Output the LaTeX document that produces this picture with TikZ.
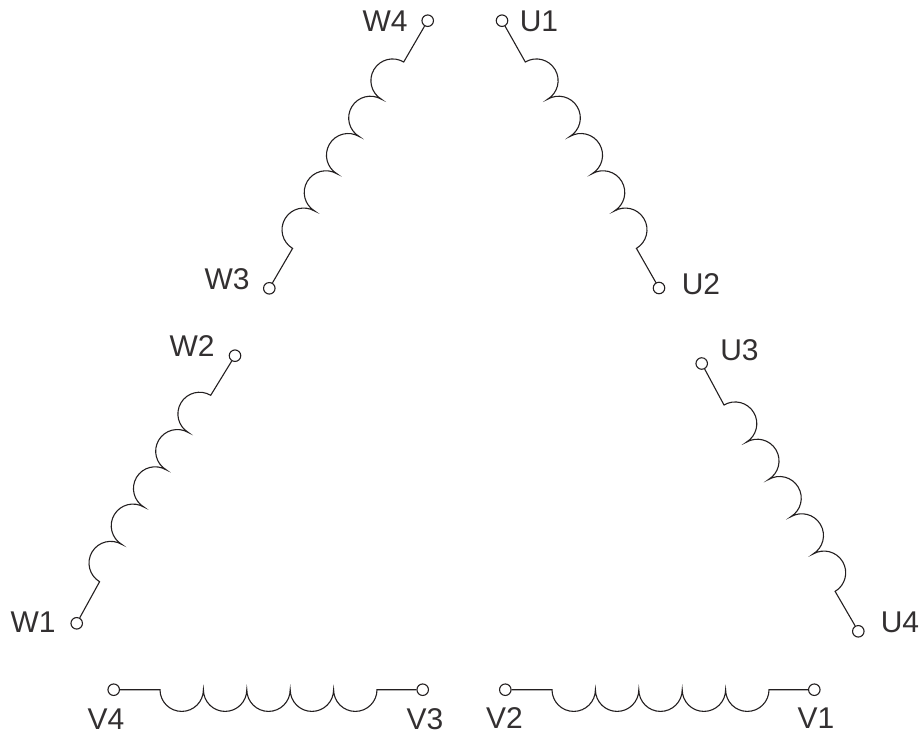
\documentclass[tikz,border=0pt]{standalone}
\usepackage{fontspec}
\setmainfont{Liberation Sans}
\definecolor{ink}{HTML}{231F20}
\definecolor{lblink}{HTML}{333031}
\tikzset{
  wire/.style={draw=ink,line width=1.1pt,line join=miter},
  term/.style={circle,draw=ink,line width=1.1pt,minimum size=11.5pt,inner sep=0pt},
  lbl/.style={text=lblink,inner sep=0pt,font=\fontsize{30}{33}\selectfont},
  turn/.style={radius=21.7pt}
}
\newcommand{\coilpath}[4]{% from terminal, first cusp, to terminal, start angle
  \draw[wire] (#1) -- (#2)
    arc[start angle=#4,delta angle=\coildelta,turn]
    arc[start angle=#4,delta angle=\coildelta,turn]
    arc[start angle=#4,delta angle=\coildelta,turn]
    arc[start angle=#4,delta angle=\coildelta,turn]
    arc[start angle=#4,delta angle=\coildelta,turn] -- (#3);
}
\begin{document}
\begin{tikzpicture}[x=1pt,y=-1pt]
\useasboundingbox (0,0) rectangle (920,736);
% terminals
\node[term] (tW4) at (427.7,20.7) {};
\node[term] (tW3) at (269.3,288.3) {};
\node[term] (tW2) at (235,355.7) {};
\node[term] (tW1) at (76.7,623.3) {};
\node[term] (tU1) at (502,20.7) {};
\node[term] (tU2) at (659,288) {};
\node[term] (tU3) at (701.7,363.5) {};
\node[term] (tU4) at (858.3,631.3) {};
\node[term] (tV4) at (113.7,689.7) {};
\node[term] (tV3) at (422.7,689.7) {};
\node[term] (tV2) at (505.3,689.7) {};
\node[term] (tV1) at (814.3,689.7) {};
% coil start points
\coordinate (cW4) at (403.7,62);
\coordinate (cW2) at (210.7,395.3);
\coordinate (cU1) at (525.3,62);
\coordinate (cU3) at (724,405);
\coordinate (cV4) at (160,689.7);
\coordinate (cV2) at (552,689.7);
% coils
\def\coildelta{180}
\coilpath{tW4}{cW4}{tW3}{59.2}
\coilpath{tW2}{cW2}{tW1}{59.2}
\coilpath{tV4}{cV4}{tV3}{180}
\coilpath{tV2}{cV2}{tV1}{180}
\def\coildelta{-180}
\coilpath{tU1}{cU1}{tU2}{120.8}
\coilpath{tU3}{cU3}{tU4}{120.8}
% labels
\node[lbl] (lW4) at (385,21) {W4};
\node[lbl] (lU1) at (539,21) {U1};
\node[lbl] (lW3) at (227,279) {W3};
\node[lbl] (lU2) at (701,284) {U2};
\node[lbl] (lW2) at (192,346) {W2};
\node[lbl] (lU3) at (739.5,350) {U3};
\node[lbl] (lW1) at (33,622) {W1};
\node[lbl] (lU4) at (900,622) {U4};
\node[lbl] (lV4) at (106,719) {V4};
\node[lbl] (lV3) at (425,719) {V3};
\node[lbl] (lV2) at (504.5,718.5) {V2};
\node[lbl] (lV1) at (816,718.5) {V1};
\end{tikzpicture}
\end{document}
